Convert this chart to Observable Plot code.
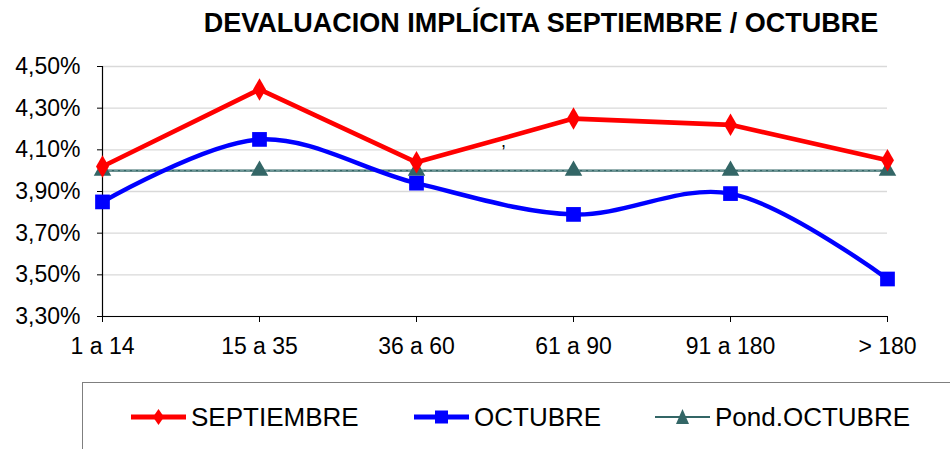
<!DOCTYPE html>
<html><head><meta charset="utf-8">
<script src="https://cdn.jsdelivr.net/npm/d3@7"></script>
<script src="https://cdn.jsdelivr.net/npm/@observablehq/plot@0.6"></script>
<style>
body{margin:0;background:#fff;font-family:"Liberation Sans",Arial,sans-serif;}
#wrap{position:relative;width:950px;height:449px;overflow:hidden;}
#chart{position:absolute;left:0;top:0;}
#title{position:absolute;left:0;width:1082px;top:7px;text-align:center;font-weight:bold;font-size:27px;line-height:32px;color:#000;white-space:nowrap;}
#legend{position:absolute;left:82px;top:382px;width:900px;height:100px;border:1.5px solid #7f7f7f;box-sizing:border-box;}
.item{position:absolute;top:16px;font-size:26px;line-height:36px;display:flex;align-items:center;white-space:nowrap;}
.item svg{margin-right:5px;}
</style></head>
<body><div id="wrap">
<div id="chart"></div>
<div id="title">DEVALUACION IMPLÍCITA SEPTIEMBRE / OCTUBRE</div>
<div id="legend"></div>
</div>
<script>
const categories = ["1 a 14","15 a 35","36 a 60","61 a 90","91 a 180","> 180"];
const septiembre = [4.02,4.39,4.04,4.25,4.22,4.05];
const octubre = [3.85,4.15,3.94,3.79,3.89,3.48];
const pondOctubre = [4.00,4.00,4.00,4.00,4.00,4.00];
const yTicks = [3.3,3.5,3.7,3.9,4.1,4.3,4.5];
const seriesNames = ["SEPTIEMBRE","OCTUBRE","Pond.OCTUBRE"];
const strayMark = [{cat:"36 a 60", v:4.14, t:","}];

const sep = categories.map((c,i)=>({cat:c,v:septiembre[i]}));
const oct = categories.map((c,i)=>({cat:c,v:octubre[i]}));
const pond = categories.map((c,i)=>({cat:c,v:pondOctubre[i]}));
const fmt = d => d.toFixed(2).replace(".",",")+"%";

const chart = Plot.plot({
  width:950, height:449,
  marginLeft:102, marginRight:63, marginTop:66, marginBottom:133,
  style:{fontSize:"23px", fontFamily:"'Liberation Sans',Arial,sans-serif", color:"#000", background:"transparent", overflow:"visible"},
  x:{type:"point", domain:categories, padding:0},
  y:{domain:[3.3,4.5]},
  marks:[
    Plot.gridY(yTicks,{stroke:"#d9d9d9", strokeOpacity:1, strokeWidth:1.3}),
    Plot.axisY(yTicks,{tickFormat:fmt, tickSize:5, tickPadding:17, fontSize:23, label:null}),
    Plot.axisX({tickSize:6, tickPadding:15, fontSize:23, label:null}),
    Plot.ruleX([categories[0]],{y1:3.3,y2:4.5,stroke:"#000",strokeWidth:1.2}),
    Plot.ruleY([3.3],{stroke:"#000",strokeWidth:1.2}),
    Plot.line(pond,{x:"cat",y:"v",stroke:"#336666",strokeWidth:2.4}),
    Plot.line(pond,{x:"cat",y:"v",stroke:"#a8c8c8",strokeWidth:0.6,strokeDasharray:"3,3"}),
    Plot.line(sep,{x:"cat",y:"v",stroke:"#ff0000",strokeWidth:4.6}),
    Plot.line(oct,{x:"cat",y:"v",stroke:"#0000ff",strokeWidth:4.4,curve:"catmull-rom"}),
    Plot.dot(pond,{x:"cat",y:"v",symbol:"triangle",fill:"#336666",r:6.5}),
    Plot.dot(sep,{x:"cat",y:"v",symbol:"diamond",fill:"#ff0000",r:6.8}),
    Plot.dot(oct,{x:"cat",y:"v",symbol:"square",fill:"#0000ff",r:8.3}),
    Plot.text(strayMark,{x:"cat",y:"v",text:"t",dx:87,fontSize:18})
  ]
});
document.getElementById("chart").appendChild(chart);

const legendSpecs = [
  {name:seriesNames[0], color:"#ff0000", shape:"diamond", left:48, w:4.8},
  {name:seriesNames[1], color:"#0000ff", shape:"square", left:331, w:4.8},
  {name:seriesNames[2], color:"#336666", shape:"triangle", left:572, w:2.2}
];
const leg = document.getElementById("legend");
legendSpecs.forEach(s=>{
  const div = document.createElement("div");
  div.className="item"; div.style.left=s.left+"px";
  let m="";
  if(s.shape==="diamond") m=`<path d="M27.5 7 L33 15 L27.5 23 L22 15Z" fill="${s.color}"/>`;
  if(s.shape==="square") m=`<rect x="21" y="8.5" width="13" height="13" fill="${s.color}"/>`;
  if(s.shape==="triangle") m=`<path d="M27.5 7 L34 22 L21 22Z" fill="${s.color}"/>`;
  div.innerHTML=`<svg width="55" height="30"><line x1="0" x2="55" y1="15" y2="15" stroke="${s.color}" stroke-width="${s.w}" stroke-linecap="round"/>${m}</svg><span>${s.name}</span>`;
  leg.appendChild(div);
});
</script>
</body></html>
